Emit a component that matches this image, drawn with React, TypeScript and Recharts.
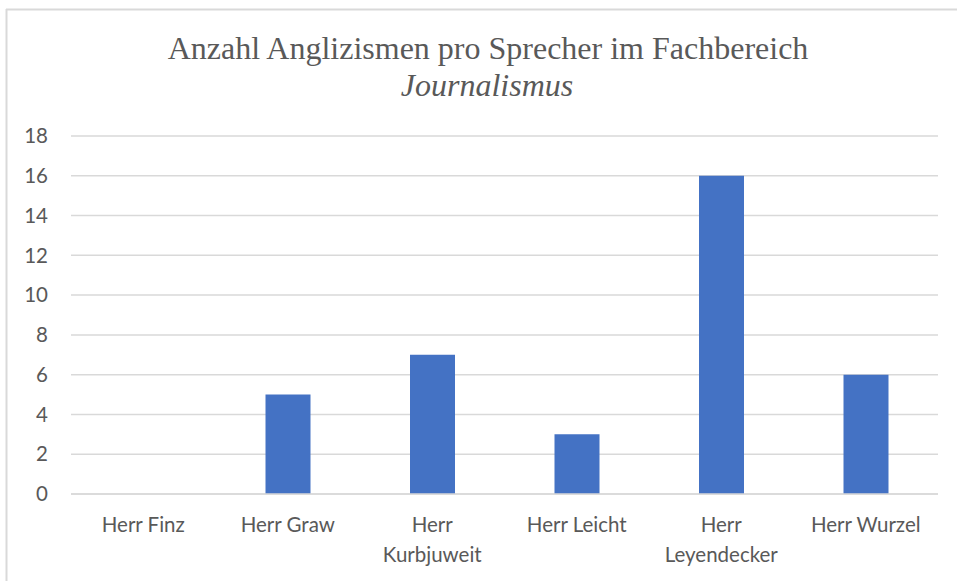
import { BarChart, Bar, XAxis, YAxis, CartesianGrid } from 'recharts';

const speakers = ['Herr Finz', 'Herr Graw', 'Herr\nKurbjuweit', 'Herr Leicht', 'Herr\nLeyendecker', 'Herr Wurzel'];
const anglicisms = [0, 5, 7, 3, 16, 6];
const yTicks = [0, 2, 4, 6, 8, 10, 12, 14, 16, 18];

const titleLine = 'Anzahl Anglizismen pro Sprecher im Fachbereich';
const titleField = 'Journalismus';

const data = speakers.map((name, i) => ({ name, value: anglicisms[i] }));

const textColor = '#595959';
const gridColor = '#d9d9d9';
const tickFont = 'Lato, "Open Sans", sans-serif';
const titleFont = '"Liberation Serif", "Times New Roman", serif';

function SpeakerTick({ x, y, payload }: any) {
  const lines = String(payload.value).split('\n');
  return (
    <g transform={`translate(${x},${y})`}>
      {lines.map((line, i) => (
        <text
          key={i}
          x={0}
          y={30 + i * 30}
          textAnchor="middle"
          fill={textColor}
          fontSize={20.5}
          fontFamily={tickFont}
        >
          {line}
        </text>
      ))}
    </g>
  );
}

export default function App() {
  return (
    <div style={{ position: 'absolute', left: 0, top: 0, width: 957, height: 581, background: '#fff' }}>
      <BarChart
        width={957}
        height={581}
        data={data}
        margin={{ top: 136, right: 19, bottom: 27, left: 0 }}
      >
        <CartesianGrid vertical={false} stroke={gridColor} strokeWidth={1.5} />
        <XAxis
          dataKey="name"
          height={60}
          tickLine={false}
          axisLine={{ stroke: gridColor, strokeWidth: 1.5 }}
          tick={<SpeakerTick />}
          interval={0}
        />
        <YAxis
          width={71}
          domain={[0, 18]}
          ticks={yTicks}
          tickLine={false}
          axisLine={false}
          tickMargin={17}
          tick={{ fill: textColor, fontSize: 20.5, fontFamily: tickFont }}
        />
        <Bar dataKey="value" fill="#4472c4" barSize={45} isAnimationActive={false} />
      </BarChart>
      <svg width={957} height={581} style={{ position: 'absolute', left: 0, top: 0, pointerEvents: 'none' }}>
        <line x1={6} y1={9.5} x2={957} y2={9.5} stroke={gridColor} strokeWidth={2} />
        <line x1={6.5} y1={9} x2={6.5} y2={581} stroke={gridColor} strokeWidth={2} />
        <text x={488} y={59} textAnchor="middle" fill={textColor} fontSize={32} fontFamily={titleFont}>
          {titleLine}
        </text>
        <text
          x={487}
          y={96}
          textAnchor="middle"
          fill={textColor}
          fontSize={32}
          fontStyle="italic"
          fontFamily={titleFont}
        >
          {titleField}
        </text>
      </svg>
    </div>
  );
}
